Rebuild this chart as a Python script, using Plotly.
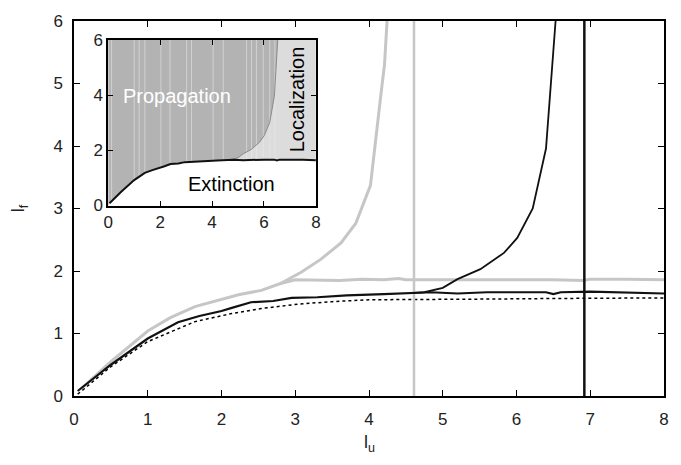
import numpy as np
import plotly.graph_objects as go

# ---- data ----
gray_flat_x = [0.1, 0.5, 1.0, 1.3, 1.64, 2.0, 2.23, 2.54, 2.8, 3.0, 3.3, 3.6, 3.9, 4.2, 4.4, 4.5, 4.6, 5.0, 5.5, 6.0, 6.5, 6.9, 7.0, 7.5, 8.0]
gray_flat_y = [0.12, 0.55, 1.04, 1.25, 1.43, 1.55, 1.62, 1.69, 1.80, 1.86, 1.86, 1.85, 1.87, 1.86, 1.88, 1.86, 1.86, 1.86, 1.87, 1.86, 1.86, 1.85, 1.87, 1.87, 1.86]

gray_div_x = [2.8, 3.08, 3.35, 3.62, 3.82, 4.02, 4.16, 4.21, 4.25]
gray_div_y = [1.80, 1.98, 2.19, 2.45, 2.76, 3.37, 4.81, 5.3, 6.1]

black_x = [0.05, 0.5, 1.0, 1.2, 1.41, 1.7, 2.0, 2.14, 2.4, 2.7, 2.95, 3.3, 3.7, 4.2, 4.61, 4.84, 5.2, 5.6, 6.0, 6.4, 6.5, 6.6, 7.0, 7.5, 8.0]
black_y = [0.08, 0.5, 0.92, 1.05, 1.18, 1.28, 1.36, 1.41, 1.50, 1.52, 1.57, 1.58, 1.61, 1.63, 1.65, 1.66, 1.64, 1.66, 1.66, 1.66, 1.63, 1.66, 1.67, 1.66, 1.64]

black_div_x = [4.61, 4.75, 5.0, 5.2, 5.51, 5.83, 6.01, 6.22, 6.40, 6.50, 6.53]
black_div_y = [1.65, 1.66, 1.73, 1.87, 2.03, 2.29, 2.53, 3.0, 3.96, 5.43, 6.0]

dot_x = [0.05, 0.5, 1.0, 1.64, 2.14, 2.54, 3.04, 3.5, 4.0, 4.61, 5.5, 6.5, 7.5, 8.0]
dot_y = [0.03, 0.47, 0.87, 1.19, 1.32, 1.40, 1.47, 1.51, 1.54, 1.54, 1.55, 1.56, 1.56, 1.57]

vline_gray = 4.61
vline_black = 6.92

stripe_x = [0.13, 1.0, 1.19, 1.41, 2.03, 2.38, 3.02, 3.21, 4.04, 4.43, 5.33, 5.52, 5.71, 5.97, 6.22, 6.42]

x_ticks = [0, 1, 2, 3, 4, 5, 6, 7, 8]
y_ticks = [0, 1, 2, 3, 4, 5, 6]
inset_ticks = [0, 2, 4, 6, 8]
inset_yticks = [0, 2, 4, 6]

GRAY = "#c6c6c6"
FONT = "Liberation Sans, Arial, sans-serif"

fig = go.Figure()

# ---- main plot ----
fig.add_trace(go.Scatter(x=dot_x, y=dot_y, mode="lines",
                         line=dict(color="black", width=1.5, dash="dot"), xaxis="x", yaxis="y"))
fig.add_trace(go.Scatter(x=gray_flat_x, y=gray_flat_y, mode="lines",
                         line=dict(color=GRAY, width=3), xaxis="x", yaxis="y"))
fig.add_trace(go.Scatter(x=gray_div_x, y=gray_div_y, mode="lines",
                         line=dict(color=GRAY, width=3), xaxis="x", yaxis="y"))
fig.add_trace(go.Scatter(x=[vline_gray, vline_gray], y=[0, 6], mode="lines",
                         line=dict(color=GRAY, width=2.5), xaxis="x", yaxis="y"))
fig.add_trace(go.Scatter(x=black_x, y=black_y, mode="lines",
                         line=dict(color="#111111", width=2.2), xaxis="x", yaxis="y"))
fig.add_trace(go.Scatter(x=black_div_x, y=black_div_y, mode="lines",
                         line=dict(color="#111111", width=1.8), xaxis="x", yaxis="y"))
fig.add_trace(go.Scatter(x=[vline_black, vline_black], y=[0, 6], mode="lines",
                         line=dict(color="#111111", width=2.5), xaxis="x", yaxis="y"))

# ---- inset ----
poly_light_x = [0] + black_x + [8, 0]
poly_light_y = [0] + black_y + [6, 6]
fig.add_trace(go.Scatter(x=poly_light_x, y=poly_light_y, mode="lines", fill="toself",
                         fillcolor="#dcdcdc", line=dict(width=0), xaxis="x2", yaxis="y2"))

idx = black_x.index(4.61)
poly_dark_x = [0] + black_x[:idx] + black_div_x + [0]
poly_dark_y = [0] + black_y[:idx] + black_div_y + [6]
fig.add_trace(go.Scatter(x=poly_dark_x, y=poly_dark_y, mode="lines", fill="toself",
                         fillcolor="#b3b3b3", line=dict(width=0), xaxis="x2", yaxis="y2"))

# faint stripes in the propagation region
sx, sy = [], []
for s in stripe_x:
    sx += [s, s, None]
    sy += [float(np.interp(s, black_x, black_y)), 6, None]
fig.add_trace(go.Scatter(x=sx, y=sy, mode="lines",
                         line=dict(color="rgba(235,235,235,0.55)", width=1), xaxis="x2", yaxis="y2"))

fig.add_trace(go.Scatter(x=black_div_x, y=black_div_y, mode="lines",
                         line=dict(color="#8a8a8a", width=1), xaxis="x2", yaxis="y2"))
fig.add_trace(go.Scatter(x=black_x, y=black_y, mode="lines",
                         line=dict(color="#111111", width=2), xaxis="x2", yaxis="y2"))

axis_common = dict(showline=True, linecolor="black", mirror="ticks", ticks="inside",
                   tickcolor="black", showgrid=False, zeroline=False,
                   tickfont=dict(family=FONT, size=17, color="#222222"))

fig.update_layout(
    width=681, height=465,
    margin=dict(l=74, r=17, t=14, b=69),
    paper_bgcolor="white", plot_bgcolor="white",
    showlegend=False,
    xaxis=dict(range=[0, 8], tickvals=x_ticks, ticklen=6, linewidth=1.5, domain=[0, 1],
               ticklabelstandoff=7, **axis_common),
    yaxis=dict(range=[0, 6], tickvals=y_ticks, ticklen=6, linewidth=1.5, domain=[0, 1],
               ticklabelstandoff=6, **axis_common),
    xaxis2=dict(range=[0, 8], tickvals=inset_ticks, ticklen=5, linewidth=1.5,
                domain=[0.058, 0.410], anchor="y2", **axis_common),
    yaxis2=dict(range=[0, 6], tickvals=inset_yticks, ticklen=5, linewidth=1.5,
                domain=[0.508, 0.950], anchor="x2", **axis_common),
)

fig.add_annotation(text="Propagation", x=2.66, y=3.96, xref="x2", yref="y2", showarrow=False,
                   font=dict(family=FONT, size=20, color="white"))
fig.add_annotation(text="Extinction", x=4.75, y=0.77, xref="x2", yref="y2", showarrow=False,
                   font=dict(family=FONT, size=20, color="black"))
fig.add_annotation(text="Localization", x=7.25, y=3.86, xref="x2", yref="y2", showarrow=False,
                   textangle=-90, font=dict(family=FONT, size=20, color="black"))

fig.add_annotation(text="l<sub>u</sub>", x=0.5, y=-0.09, xref="paper", yref="paper",
                   xanchor="center", yanchor="top", showarrow=False,
                   font=dict(family=FONT, size=18, color="#222222"))
fig.add_annotation(text="l<sub>f</sub>", x=-0.092, y=0.5, xref="paper", yref="paper",
                   xanchor="center", yanchor="middle", showarrow=False, textangle=-90,
                   font=dict(family=FONT, size=18, color="#222222"))

fig.write_html("out.html", config={"displayModeBar": False},
               post_script="document.body.style.margin='0px';document.body.style.overflow='hidden';")
